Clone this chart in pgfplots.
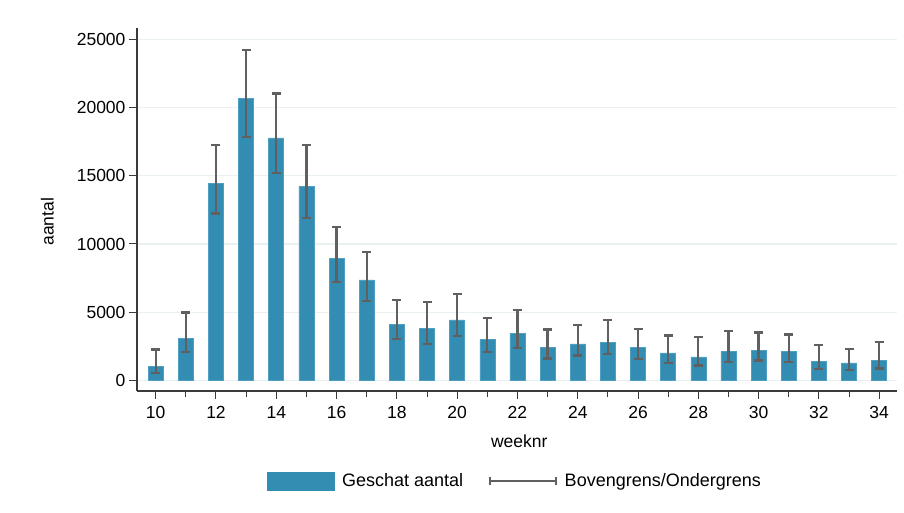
\documentclass[border=0pt]{standalone}
\usepackage{fontspec}
\setmainfont{Liberation Sans}
\usepackage{pgfplots}
\pgfplotsset{compat=1.18}
\usepackage{pgfplotstable}
\definecolor{barcol}{HTML}{338DB3}
\definecolor{baredge}{HTML}{4E9FC2}
\definecolor{errcol}{HTML}{606060}
\definecolor{gridcol}{HTML}{EAF1F3}
\definecolor{axcol}{HTML}{3A3A3A}

\pgfplotstableread{
w v hi lo
10 1050 2270 560
11 3060 4970 2080
12 14430 17250 12230
13 20690 24220 17860
14 17780 21040 15220
15 14210 17270 11890
16 8930 11250 7220
17 7360 9420 5820
18 4130 5870 3010
19 3790 5750 2690
20 4430 6350 3230
21 3000 4560 2070
22 3450 5170 2360
23 2390 3740 1600
24 2680 4040 1820
25 2780 4410 1920
26 2390 3790 1580
27 2020 3280 1280
28 1720 3200 1080
29 2120 3600 1330
30 2220 3520 1450
31 2120 3370 1350
32 1400 2590 840
33 1280 2290 740
34 1480 2830 860
}\data

\begin{document}
\begin{tikzpicture}[x=1pt,y=1pt]
\path[use as bounding box] (0,0) rectangle (904,513);
\begin{axis}[
  at={(137pt,122pt)}, anchor=south west,
  scale only axis, width=760pt, height=363pt,
  xmin=9.38, xmax=34.59, ymin=-780, ymax=25840,
  axis lines*=left,
  axis line style={axcol, line width=1.2pt},
  ytick={0,5000,...,25000},
  xtick={10,12,...,34},
  minor xtick={11,13,...,33},
  tick align=outside,
  major tick length=8pt, minor tick length=6pt,
  tick style={axcol, line width=1pt},
  ymajorgrids, grid style={gridcol, line width=1.2pt},
  scaled y ticks=false,
  /pgf/number format/assume math mode=true,
  /pgf/number format/set thousands separator={},
  ticklabel style={font=\fontsize{17.5}{20}\selectfont, text=black},
  xticklabel style={yshift=-4pt},
  label style={font=\fontsize{17.5}{20}\selectfont},
  xlabel={weeknr}, ylabel={aantal},
  xlabel style={at={(axis description cs:0.503,-0.138)}, anchor=center},
  ylabel style={at={(axis description cs:-0.118,0.466)}, anchor=center},
  legend columns=2,
  legend style={at={(axis description cs:0.497,-0.248)}, anchor=center,
    draw=none, fill=none, font=\fontsize{18}{20}\selectfont,
    /tikz/every odd column/.append style={column sep=6pt},
    /tikz/every even column/.append style={column sep=24pt}},
]
\addplot[ybar, bar width=15pt, bar shift=0pt, fill=barcol, draw=baredge, line width=0.6pt,
  legend image code/.code={\fill[barcol] (0pt,-9pt) rectangle (67pt,9pt);},
  error bars/.cd, y dir=both, y explicit,
  error bar style={errcol, line width=2.3pt},
  error mark options={errcol, line width=2.3pt, mark size=4.5pt, rotate=90}]
  table[x=w, y=v, y error plus expr=\thisrow{hi}-\thisrow{v}, y error minus expr=\thisrow{v}-\thisrow{lo}] {\data};
\addlegendentry{Geschat aantal}
\addlegendimage{legend image code/.code={
  \draw[errcol, line width=1.5pt] (0pt,0pt) -- (66pt,0pt);
  \draw[errcol, line width=1.5pt] (0pt,-4pt) -- (0pt,4pt);
  \draw[errcol, line width=1.5pt] (66pt,-4pt) -- (66pt,4pt);}}
\addlegendentry{Bovengrens/Ondergrens}
\end{axis}
\end{tikzpicture}
\end{document}
